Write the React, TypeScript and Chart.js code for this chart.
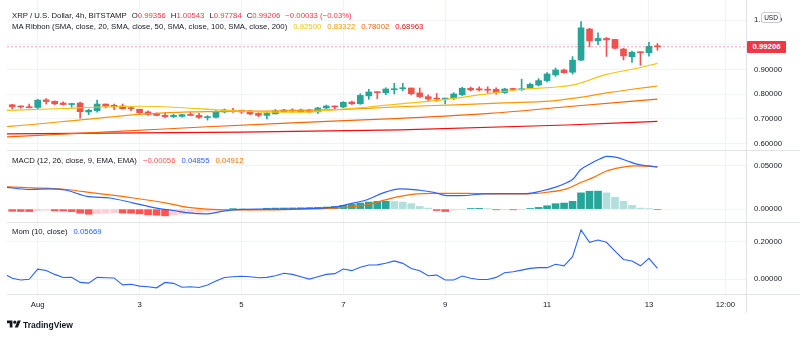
import React, { useEffect, useRef } from 'react';
import { Chart, registerables } from 'chart.js';
Chart.register(...registerables);

const FONT = '"Liberation Sans", Arial, sans-serif';
const TEXT = '#131722';
const GRID = '#f0f3fa';
const SEP = '#e0e3eb';
const UP = '#26a69a';
const DOWN = '#ef5350';
const FS = 7.75;

// ---- candles (4h), first candle index relative to Aug 1 00:00 ----
const firstCandle = -3;
const opens = [0.757,0.752,0.749,0.746,0.777,0.771,0.764,0.758,0.764,0.728,0.733,0.760,0.755,0.752,0.745,0.739,0.728,0.721,0.714,0.709,0.710,0.718,0.714,0.705,0.706,0.728,0.735,0.735,0.732,0.722,0.714,0.720,0.729,0.736,0.729,0.736,0.728,0.744,0.752,0.748,0.768,0.761,0.793,0.810,0.806,0.818,0.822,0.825,0.805,0.790,0.783,0.780,0.784,0.798,0.824,0.822,0.820,0.820,0.806,0.821,0.818,0.826,0.837,0.855,0.878,0.898,0.889,0.938,1.064,1.016,1.026,1.022,0.983,0.952,0.972,0.968,0.99356];
const highs = [0.759,0.753,0.760,0.779,0.782,0.773,0.769,0.763,0.768,0.739,0.776,0.760,0.760,0.760,0.751,0.739,0.732,0.724,0.724,0.719,0.719,0.726,0.722,0.713,0.733,0.740,0.743,0.735,0.734,0.725,0.729,0.738,0.739,0.741,0.740,0.739,0.747,0.756,0.753,0.770,0.772,0.802,0.820,0.810,0.826,0.844,0.844,0.825,0.825,0.797,0.803,0.784,0.806,0.828,0.829,0.830,0.830,0.826,0.824,0.824,0.861,0.845,0.863,0.888,0.906,0.902,0.952,1.094,1.067,1.049,1.030,1.022,0.986,0.975,0.972,1.010,1.00543];
const lows = [0.741,0.743,0.744,0.741,0.760,0.757,0.755,0.747,0.703,0.717,0.727,0.744,0.737,0.739,0.733,0.721,0.714,0.712,0.705,0.705,0.707,0.714,0.702,0.695,0.704,0.724,0.726,0.722,0.717,0.709,0.700,0.720,0.727,0.726,0.726,0.726,0.722,0.741,0.739,0.745,0.758,0.759,0.779,0.782,0.798,0.801,0.814,0.797,0.786,0.774,0.771,0.761,0.778,0.794,0.813,0.813,0.805,0.800,0.803,0.815,0.815,0.823,0.833,0.850,0.872,0.885,0.881,0.936,0.992,1.001,0.953,0.983,0.939,0.929,0.917,0.954,0.97784];
const closes = [0.749,0.748,0.745,0.776,0.770,0.761,0.758,0.762,0.729,0.735,0.760,0.752,0.749,0.741,0.741,0.725,0.718,0.714,0.709,0.714,0.717,0.714,0.706,0.709,0.730,0.736,0.731,0.728,0.720,0.714,0.722,0.732,0.736,0.732,0.736,0.728,0.744,0.752,0.748,0.767,0.761,0.795,0.809,0.806,0.821,0.821,0.826,0.802,0.790,0.780,0.780,0.784,0.801,0.824,0.817,0.817,0.816,0.806,0.821,0.819,0.822,0.840,0.855,0.882,0.898,0.887,0.938,1.069,1.016,1.026,1.020,0.986,0.955,0.970,0.968,0.9936,0.99206];

// ---- MA ribbon (SMA 20/50/100/200): [candle index, value] ----
const ma20Points = [[-4,0.734],[3,0.742],[7.3,0.748],[12,0.751],[16,0.747],[20.7,0.737],[24,0.731],[28,0.727],[31,0.727],[35,0.737],[39,0.748],[42.7,0.761],[47.7,0.777],[52.5,0.799],[57.2,0.820],[61.5,0.830],[63.5,0.841],[67,0.880],[70.6,0.905],[73,0.925]];
const ma50Points = [[-4,0.668],[-1,0.676],[5.3,0.697],[12,0.718],[18,0.728],[24.8,0.731],[30,0.733],[35,0.737],[42.7,0.749],[50,0.758],[55,0.765],[60.3,0.772],[63.5,0.785],[67,0.805],[70,0.820],[73,0.83322]];
const ma100Points = [[-4,0.626],[10,0.650],[20,0.668],[30,0.684],[42.7,0.702],[53.3,0.722],[62.3,0.749],[73,0.78002]];
const ma200Points = [[-4,0.639],[20,0.645],[42.7,0.655],[62.3,0.675],[73,0.68963]];

// ---- MACD ----
const macdPoints = [[-4,0.0256],[-0.9,0.0227],[1.45,0.0235],[3.4,0.0218],[5.8,0.0148],[8.5,0.0129],[11.3,0.0070],[14,0.0012],[16,-0.0016],[17.5,-0.0040],[19.9,-0.0055],[21.5,-0.0028],[23,-0.0008],[27,0.0],[30.9,0.0004],[34.8,0.0023],[36.8,0.0062],[38.8,0.0109],[40.7,0.0188],[42.7,0.0235],[45,0.0218],[46.6,0.0195],[48.2,0.0156],[49.7,0.0156],[52.5,0.0176],[54.5,0.0180],[57.6,0.0180],[59.2,0.0207],[61.1,0.0258],[62.3,0.0305],[63.1,0.0352],[63.9,0.0453],[65,0.0520],[66.2,0.0579],[67,0.0610],[68.2,0.0599],[69.4,0.0559],[70.6,0.0520],[71.9,0.0500],[73,0.04855]];
const signalPoints = [[-4,0.0258],[-0.5,0.0246],[3.4,0.0227],[6.5,0.0188],[11.3,0.0129],[15.2,0.0070],[17.5,0.0023],[19.9,0.0],[23,-0.0008],[27,-0.0008],[30.9,0.0],[34.8,0.0012],[38.8,0.0050],[40.7,0.0101],[42.7,0.0148],[44.6,0.0176],[46.6,0.0183],[50.5,0.0183],[54.5,0.0176],[57.6,0.0176],[60,0.0195],[62.3,0.0235],[63.9,0.0305],[65.4,0.0364],[67,0.0441],[68.6,0.0481],[70.2,0.0500],[73,0.04912]];
const histFirst = -3;
const hist = [-0.0025,-0.0027,-0.0028,-0.0018,-0.0012,-0.0020,-0.0022,-0.0028,-0.0047,-0.0059,-0.0050,-0.0046,-0.0040,-0.0046,-0.0048,-0.0055,-0.0066,-0.0071,-0.0078,-0.0068,-0.0058,-0.0047,-0.0038,-0.0027,-0.0016,-0.0006,0.0005,0.0003,-0.0008,-0.0003,0.0010,0.0012,0.0013,0.0014,0.0016,0.0018,0.0020,0.0024,0.0031,0.0043,0.0055,0.0070,0.0082,0.0090,0.0092,0.0088,0.0082,0.0063,0.0031,0.0012,-0.0016,-0.0027,-0.0012,-0.0003,0.0008,0.0009,0.0004,-0.0008,-0.0003,-0.0008,-0.0003,0.0008,0.0020,0.0039,0.0063,0.0070,0.0090,0.0188,0.0207,0.0208,0.0188,0.0137,0.0090,0.0043,0.0012,0.0004,-0.00056];

// ---- Momentum (10) ----
const momFirst = -4;
const mom = [0.030,0.004,-0.005,-0.001,0.053,0.046,0.025,0.008,0.009,-0.018,-0.022,0.009,0.007,0.006,-0.031,-0.028,-0.038,-0.041,-0.047,-0.018,-0.023,-0.044,-0.041,-0.045,-0.032,-0.011,0.008,0.012,0.015,0.012,0.007,0.009,0.018,0.031,0.025,0.012,0.000,0.012,0.025,0.029,0.054,0.045,0.063,0.075,0.076,0.085,0.097,0.084,0.057,0.045,0.018,0.021,-0.005,-0.005,0.016,0.004,-0.002,-0.002,0.009,0.034,0.039,0.048,0.057,0.061,0.061,0.079,0.071,0.120,0.263,0.197,0.209,0.197,0.150,0.105,0.097,0.071,0.111,0.0567];

// ---- axes ----
const timeTicks = [0, 12, 24, 36, 48, 60, 72, 81];
const timeLabels = ['Aug', '3', '5', '7', '9', '11', '13', '12:00'];
const priceTicks = [0.6, 0.7, 0.8, 0.9, 1.0, 1.1];
const macdTicks = [0, 0.05];
const momTicks = [0, 0.2];
const X_MIN = -3.616;
const X_MAX = 83.43;

const toXY = (pts: number[][]) => pts.map(([x, y]) => ({ x, y }));

const noPad = (s: any) => { s.paddingTop = 0; s.paddingBottom = 0; s.paddingLeft = 0; s.paddingRight = 0; };

function xScale(showLabels: boolean): any {
  return {
    type: 'linear',
    min: X_MIN,
    max: X_MAX,
    offset: false,
    afterBuildTicks: (s: any) => { s.ticks = timeTicks.map((v) => ({ value: v })); },
    afterFit: (s: any) => { s.height = showLabels ? 19 : 0; noPad(s); },
    grid: { color: GRID, drawTicks: false, offset: false },
    border: { display: false },
    ticks: {
      display: showLabels,
      padding: 6,
      color: TEXT,
      autoSkip: false,
      maxRotation: 0,
      font: { family: FONT, size: FS },
      callback: (v: any) => { const k = timeTicks.indexOf(Number(v)); return k >= 0 ? timeLabels[k] : ''; },
    },
  };
}

function yScale(min: number, max: number, ticks: number[], hide: number[] = []): any {
  return {
    type: 'linear',
    position: 'right',
    min,
    max,
    afterBuildTicks: (s: any) => { s.ticks = ticks.map((v) => ({ value: v })); },
    afterFit: (s: any) => { s.width = 54; noPad(s); },
    grid: { color: GRID, drawTicks: false },
    border: { display: true, color: SEP },
    ticks: {
      padding: 8,
      color: TEXT,
      font: { family: FONT, size: FS },
      callback: (v: any) => (hide.includes(Number(v)) ? '' : Number(v).toFixed(5)),
    },
  };
}

const baseOptions = (scales: any): any => ({
  responsive: false,
  maintainAspectRatio: false,
  animation: false,
  devicePixelRatio: 1,
  events: [],
  layout: { padding: { left: 7, right: 0, top: 0, bottom: 0 } },
  plugins: { legend: { display: false }, tooltip: { enabled: false } },
  scales,
});

export default function App() {
  const priceRef = useRef<HTMLCanvasElement>(null);
  const macdRef = useRef<HTMLCanvasElement>(null);
  const momRef = useRef<HTMLCanvasElement>(null);
  const tagRef = useRef<HTMLDivElement>(null);

  useEffect(() => {
    const charts: Chart[] = [];
    const candleX = opens.map((_, i) => firstCandle + i);
    const candleColors = opens.map((o, i) => (closes[i] >= o ? UP : DOWN));
    const last = closes[closes.length - 1];

    const line = (pts: number[][], color: string, order: number): any => ({
      type: 'line',
      data: toXY(pts),
      borderColor: color,
      borderWidth: 1.2,
      pointRadius: 0,
      cubicInterpolationMode: 'monotone',
      order,
    });

    charts.push(new Chart(priceRef.current!, {
      type: 'bar',
      data: {
        datasets: [
          { type: 'bar', data: candleX.map((x, i) => ({ x, y: [lows[i], highs[i]] })) as any, backgroundColor: candleColors, barThickness: 1, grouped: false, order: 6 } as any,
          { type: 'bar', data: candleX.map((x, i) => ({ x, y: [opens[i], closes[i]] })) as any, backgroundColor: candleColors, barThickness: 6, minBarLength: 1, grouped: false, order: 5 } as any,
          line(ma200Points, '#f60c0c', 4),
          line(ma100Points, '#fb6500', 3),
          line(ma50Points, '#fb9800', 2),
          line(ma20Points, '#f6c309', 1),
          { type: 'line', data: [{ x: X_MIN, y: last }, { x: X_MAX, y: last }], borderColor: 'rgba(242,54,69,0.45)', borderWidth: 1, borderDash: [2, 2], pointRadius: 0, order: 0 } as any,
        ],
      },
      options: baseOptions({ x: xScale(false), y: yScale(0.5737, 1.1817, priceTicks, [1.0]) }),
    }));
    const yPix = charts[0].scales.y.getPixelForValue(last);
    if (tagRef.current) tagRef.current.style.top = `${Math.round(yPix - 6)}px`;

    const histColors = hist.map((v, i) => {
      const prev = i > 0 ? hist[i - 1] : 0;
      if (v >= 0) return v >= prev ? '#26a69a' : '#b2dfdb';
      return v < prev ? '#ff5252' : '#ffcdd2';
    });

    charts.push(new Chart(macdRef.current!, {
      type: 'bar',
      data: {
        datasets: [
          { type: 'bar', data: hist.map((v, i) => ({ x: histFirst + i, y: v })) as any, backgroundColor: histColors, barThickness: 7, grouped: false, order: 3 } as any,
          line(signalPoints, '#ff6d00', 1),
          line(macdPoints, '#2962ff', 0),
        ],
      },
      options: baseOptions({ x: xScale(false), y: yScale(-0.0149, 0.0684, macdTicks) }),
    }));

    charts.push(new Chart(momRef.current!, {
      type: 'line',
      data: {
        datasets: [
          { data: mom.map((v, i) => ({ x: momFirst + i, y: v })), borderColor: '#2962ff', borderWidth: 1.1, pointRadius: 0, tension: 0 } as any,
        ],
      },
      options: baseOptions({ x: xScale(true), y: yScale(-0.080, 0.3055, momTicks) }),
    }));

    return () => charts.forEach((c) => c.destroy());
  }, []);

  const txt: React.CSSProperties = { position: 'absolute', left: 12, fontFamily: FONT, fontSize: FS, color: TEXT, whiteSpace: 'nowrap', lineHeight: '10px' };
  const gap = { marginLeft: 5 };
  const red = '#f23645';

  return (
    <div style={{ position: 'fixed', left: 0, top: 0, width: 800, height: 337, background: '#ffffff', overflow: 'hidden' }}>
      <canvas ref={priceRef} width={800} height={150} style={{ position: 'absolute', left: 0, top: 0, width: 800, height: 150 }} />
      <canvas ref={macdRef} width={800} height={72} style={{ position: 'absolute', left: 0, top: 150, width: 800, height: 72 }} />
      <canvas ref={momRef} width={800} height={91} style={{ position: 'absolute', left: 0, top: 222, width: 800, height: 91 }} />

      <div style={{ position: 'absolute', left: 7, top: 150, width: 793, height: 1, background: SEP }} />
      <div style={{ position: 'absolute', left: 7, top: 222, width: 793, height: 1, background: SEP }} />
      <div style={{ position: 'absolute', left: 7, top: 294, width: 793, height: 1, background: SEP }} />
      <div style={{ position: 'absolute', left: 746, top: 294, width: 1, height: 19, background: SEP }} />

      <div style={{ ...txt, top: 11 }}>
        <span>XRP / U.S. Dollar, 4h, BITSTAMP</span>
        <span style={gap}>O<span style={{ color: red }}>0.99356</span></span>
        <span style={gap}>H<span style={{ color: red }}>1.00543</span></span>
        <span style={gap}>L<span style={{ color: red }}>0.97784</span></span>
        <span style={gap}>C<span style={{ color: red }}>0.99206</span></span>
        <span style={{ ...gap, color: red }}>−0.00033 (−0.03%)</span>
      </div>
      <div style={{ ...txt, top: 22 }}>
        <span>MA Ribbon (SMA, close, 20, SMA, close, 50, SMA, close, 100, SMA, close, 200)</span>
        <span style={{ marginLeft: 6, color: '#f6c309' }}>0.92500</span>
        <span style={{ marginLeft: 6, color: '#fb9800' }}>0.83322</span>
        <span style={{ marginLeft: 6, color: '#fb6500' }}>0.78002</span>
        <span style={{ marginLeft: 6, color: '#f60c0c' }}>0.68963</span>
      </div>
      <div style={{ ...txt, top: 156 }}>
        <span>MACD (12, 26, close, 9, EMA, EMA)</span>
        <span style={{ marginLeft: 6, color: '#ff5252' }}>−0.00056</span>
        <span style={{ marginLeft: 6, color: '#2962ff' }}>0.04855</span>
        <span style={{ marginLeft: 6, color: '#ff6d00' }}>0.04912</span>
      </div>
      <div style={{ ...txt, top: 227 }}>
        <span>Mom (10, close)</span>
        <span style={{ marginLeft: 6, color: '#2962ff' }}>0.05669</span>
      </div>

      <div ref={tagRef} style={{ position: 'absolute', left: 747, top: 40, width: 39, height: 12, background: red, color: '#ffffff', fontFamily: FONT, fontSize: FS, fontWeight: 'bold', lineHeight: '12px', textAlign: 'center', borderRadius: 1 }}>0.99206</div>
      <div style={{ position: 'absolute', left: 761, top: 12, width: 18, height: 9, background: '#ffffff', border: '1px solid #c8cad0', borderRadius: 3, fontFamily: FONT, fontSize: 6.5, color: TEXT, lineHeight: '9px', textAlign: 'center' }}>USD</div>

      <div style={{ position: 'absolute', left: 7, top: 319, display: 'flex', alignItems: 'center', fontFamily: FONT, fontSize: 8.5, color: TEXT, whiteSpace: 'nowrap' }}>
        <svg width={14} height={11} viewBox="0 0 36 28" style={{ marginRight: 2 }}>
          <path d="M14 22H7V11H0V4h14v18z" fill={TEXT} />
          <circle cx="20" cy="8" r="4" fill={TEXT} />
          <path d="M28 22h-8l7.5-18h8L28 22z" fill={TEXT} />
        </svg>
        <span style={{ fontWeight: 'bold' }}>TradingView</span>
      </div>
    </div>
  );
}
